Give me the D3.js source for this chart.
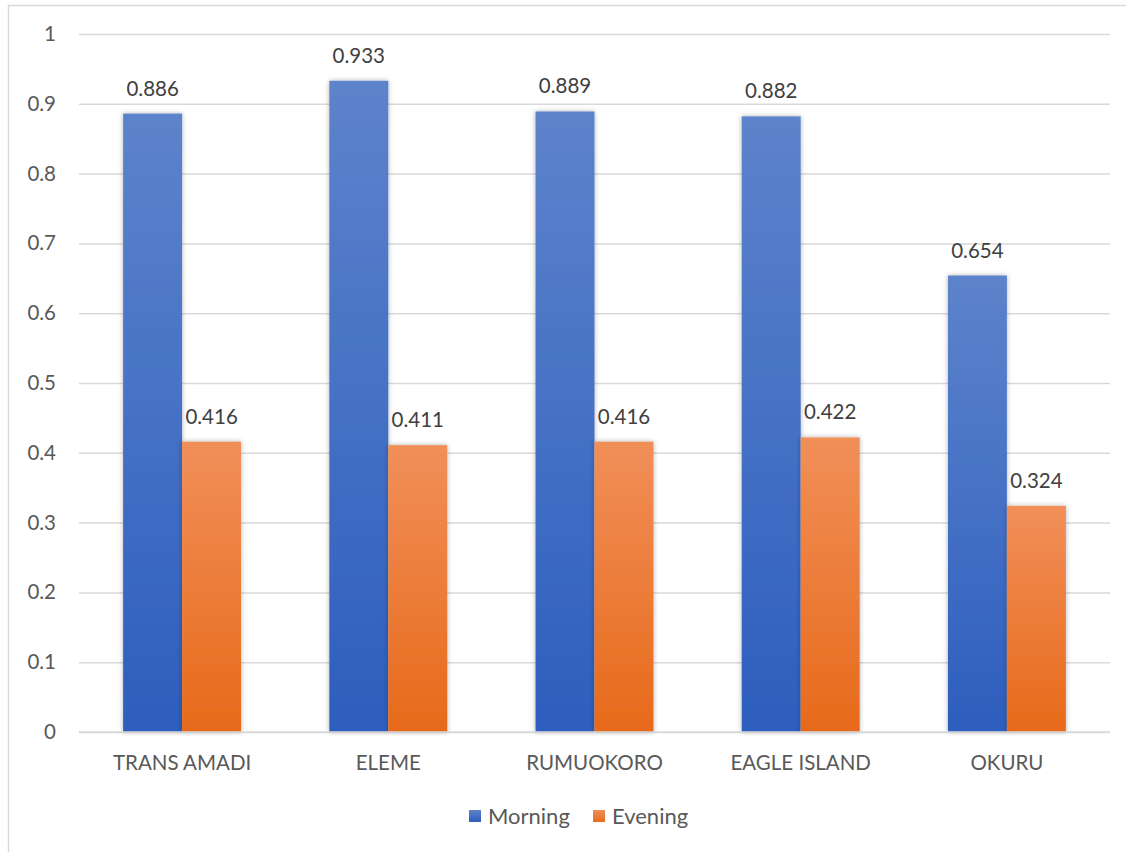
<!DOCTYPE html>
<html>
<head>
<meta charset="utf-8">
<script src="https://cdn.jsdelivr.net/npm/d3@7"></script>
<style>
  html, body { margin: 0; padding: 0; background: #fff; }
  svg { display: block; }
</style>
</head>
<body>
<svg id="chart" width="1126" height="852"></svg>
<script>
// Sites and the two sampling periods
const categories = ["TRANS AMADI", "ELEME", "RUMUOKORO", "EAGLE ISLAND", "OKURU"];
const seriesNames = ["Morning", "Evening"];
const morning = [0.886, 0.933, 0.889, 0.882, 0.654];
const evening = [0.416, 0.411, 0.416, 0.422, 0.324];
const yTicks = [0, 0.1, 0.2, 0.3, 0.4, 0.5, 0.6, 0.7, 0.8, 0.9, 1];

const svg = d3.select("#chart");
const W = 1126, H = 852;
const font = "Lato, 'Open Sans', sans-serif";
const fs = 20.5;

const plot = { left: 79, right: 1110, top: 34, bottom: 732 };

// Outer chart frame
svg.append("rect")
  .attr("x", 8.5).attr("y", 5.5)
  .attr("width", W + 10).attr("height", H + 10)
  .attr("fill", "#fff").attr("stroke", "#d9d9d9").attr("stroke-width", 1.5);

const defs = svg.append("defs");
const grads = [
  { id: "gMorning", top: "#5d83cb", bottom: "#2d5ebe" },
  { id: "gEvening", top: "#f18f59", bottom: "#e76a1a" }
];
grads.forEach(g => {
  const lg = defs.append("linearGradient").attr("id", g.id)
    .attr("x1", 0).attr("y1", 0).attr("x2", 0).attr("y2", 1);
  lg.append("stop").attr("offset", "0%").attr("stop-color", g.top);
  lg.append("stop").attr("offset", "100%").attr("stop-color", g.bottom);
});
const shadow = defs.append("filter").attr("id", "barShadow")
  .attr("x", "-30%").attr("y", "-10%").attr("width", "160%").attr("height", "120%");
shadow.append("feDropShadow")
  .attr("dx", 0).attr("dy", 0).attr("stdDeviation", 2.5)
  .attr("flood-color", "#000").attr("flood-opacity", 0.3);

const x0 = d3.scaleBand().domain(categories)
  .range([plot.left, plot.right]).paddingInner(0.428).paddingOuter(0.214);
const x1 = d3.scaleBand().domain(seriesNames).range([0, x0.bandwidth()]);
const y = d3.scaleLinear().domain([0, 1]).range([plot.bottom, plot.top]);

// Horizontal gridlines and y-axis labels
const yAxis = d3.axisLeft(y).tickValues(yTicks)
  .tickSize(-(plot.right - plot.left)).tickPadding(23)
  .tickFormat(d => d3.format("")(+d.toFixed(1)));
const gy = svg.append("g").attr("transform", `translate(${plot.left},0)`).call(yAxis);
gy.select(".domain").remove();
gy.selectAll(".tick line").attr("stroke", "#d9d9d9").attr("stroke-width", 1.5);
gy.selectAll(".tick text")
  .attr("fill", "#595959").attr("font-family", font).attr("font-size", fs);

// Bars
const colorOf = { Morning: "url(#gMorning)", Evening: "url(#gEvening)" };
const rows = categories.map((c, i) => ({ cat: c, vals: [
  { s: "Morning", v: morning[i] }, { s: "Evening", v: evening[i] }
]}));

const groups = svg.append("g").selectAll("g").data(rows).join("g")
  .attr("transform", d => `translate(${x0(d.cat)},0)`);

groups.selectAll("rect").data(d => d.vals).join("rect")
  .attr("x", d => x1(d.s))
  .attr("y", d => y(d.v))
  .attr("width", x1.bandwidth())
  .attr("height", d => y(0) - y(d.v))
  .attr("fill", d => colorOf[d.s])
  .attr("filter", "url(#barShadow)");

groups.selectAll("text.val").data(d => d.vals).join("text")
  .attr("class", "val")
  .attr("x", d => x1(d.s) + x1.bandwidth() / 2)
  .attr("y", d => y(d.v) - 18)
  .attr("text-anchor", "middle")
  .attr("fill", "#404040").attr("font-family", font).attr("font-size", fs)
  .text(d => d3.format(".3f")(d.v));

// Baseline
svg.append("line")
  .attr("x1", plot.left).attr("x2", plot.right)
  .attr("y1", y(0)).attr("y2", y(0))
  .attr("stroke", "#d9d9d9").attr("stroke-width", 1.5);

// Category labels
svg.append("g").selectAll("text").data(categories).join("text")
  .attr("x", d => x0(d) + x0.bandwidth() / 2)
  .attr("y", 770)
  .attr("text-anchor", "middle")
  .attr("fill", "#595959").attr("font-family", font).attr("font-size", fs)
  .text(d => d);

// Legend
const legend = svg.append("g");
const legendItems = [
  { name: "Morning", x: 469, fill: "url(#gMorning)" },
  { name: "Evening", x: 593, fill: "url(#gEvening)" }
];
legendItems.forEach(it => {
  legend.append("rect").attr("x", it.x).attr("y", 810)
    .attr("width", 12).attr("height", 12).attr("fill", it.fill);
  legend.append("text").attr("x", it.x + 19).attr("y", 823.5)
    .attr("fill", "#595959").attr("font-family", font).attr("font-size", 22)
    .text(it.name);
});
</script>
</body>
</html>
